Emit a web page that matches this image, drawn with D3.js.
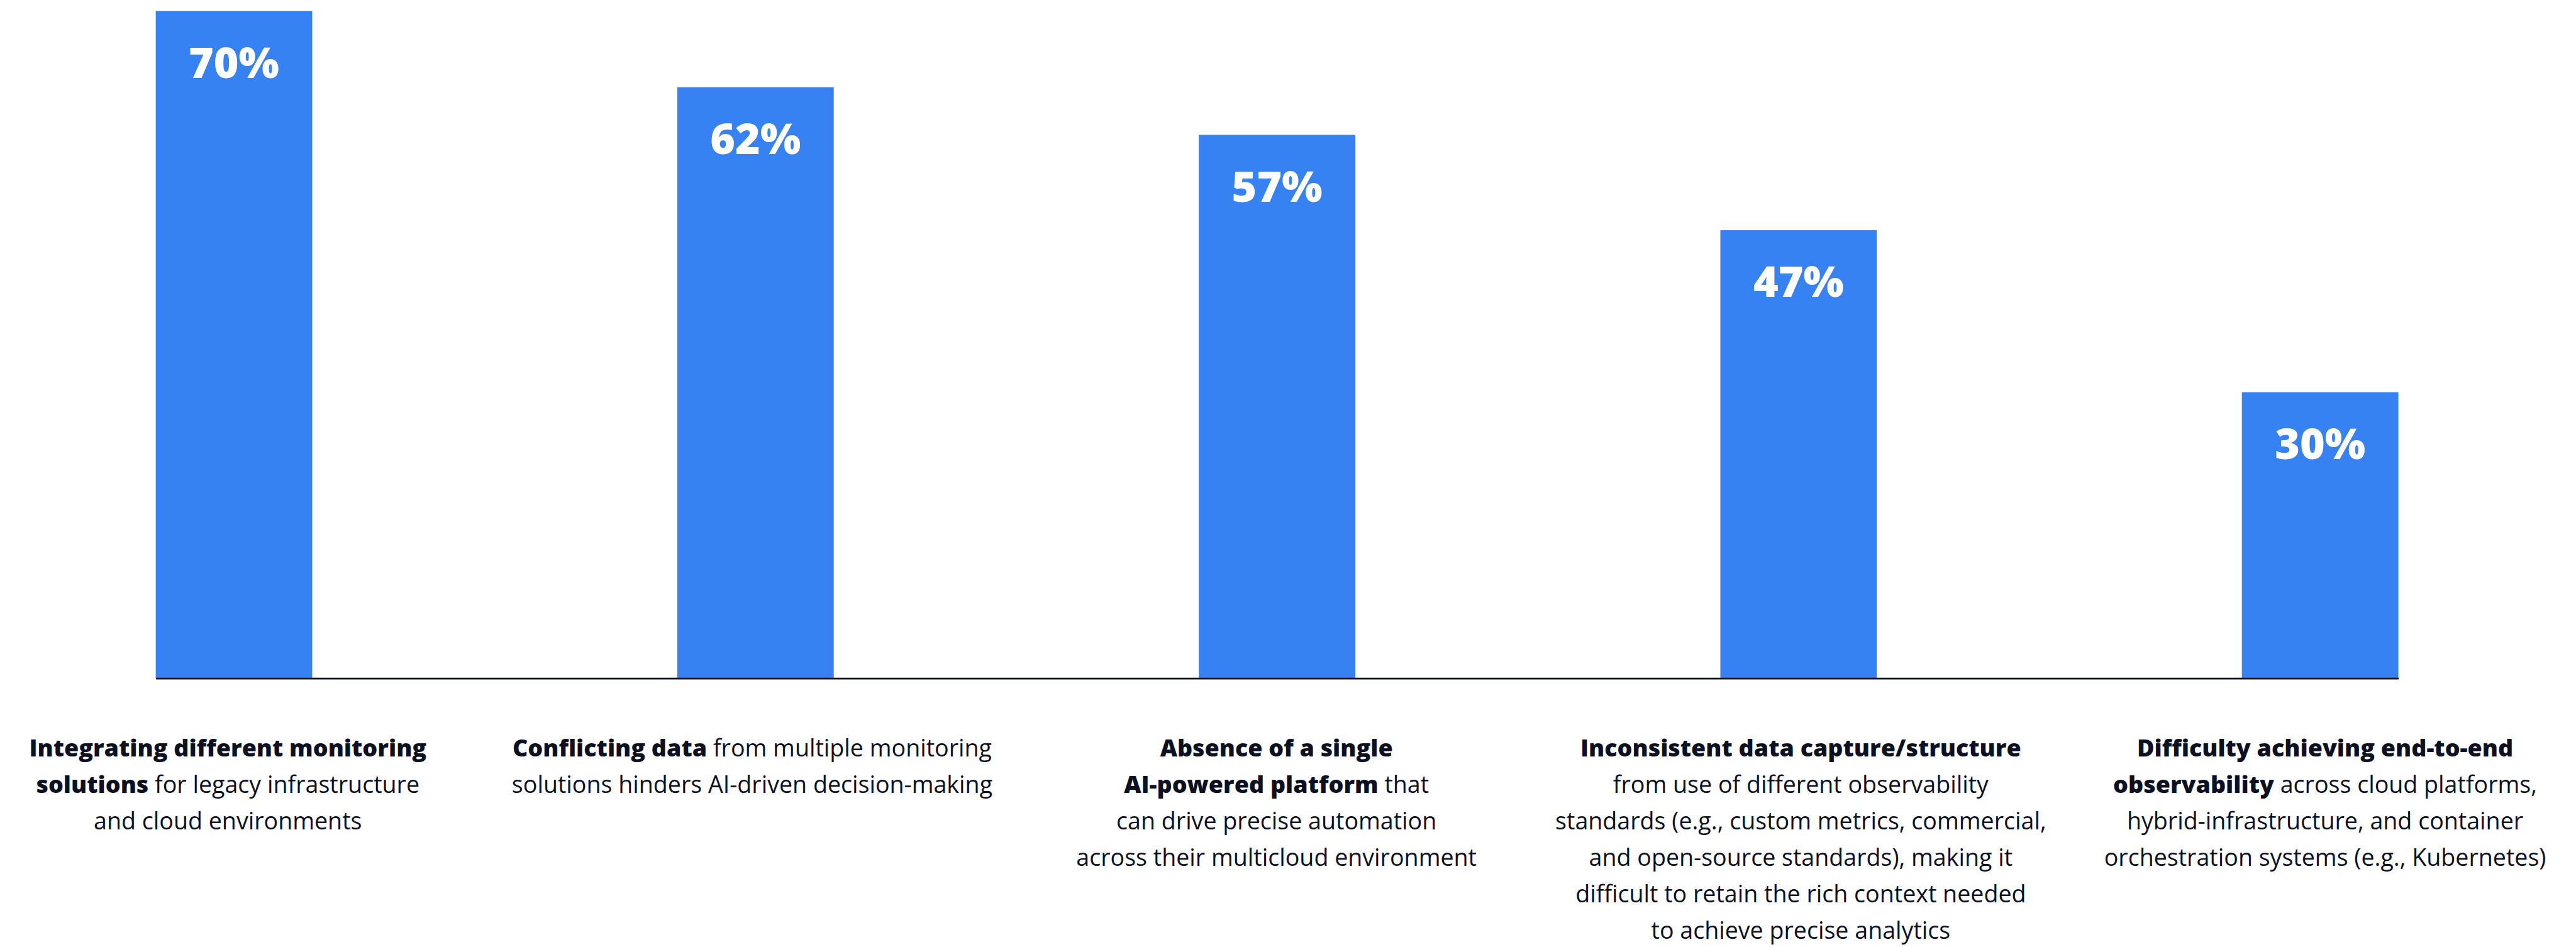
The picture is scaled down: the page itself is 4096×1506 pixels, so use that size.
<!DOCTYPE html>
<html>
<head>
<meta charset="utf-8">
<script src="https://cdn.jsdelivr.net/npm/d3@7/dist/d3.min.js"></script>
<style>
  html, body { margin: 0; padding: 0; background: #ffffff; }
  svg { display: block; }
</style>
</head>
<body>
<svg id="chart"></svg>
<script>
// Share of respondents citing each observability challenge
const categories = [
  "Integrating different monitoring solutions",
  "Conflicting data",
  "Absence of a single AI-powered platform",
  "Inconsistent data capture/structure",
  "Difficulty achieving end-to-end observability"
];
const values = [70, 62, 57, 47, 30];

// Category captions: one array per line, each line a list of [text, isBold] runs
const captionLines = [
  [
    [["Integrating different monitoring", true]],
    [["solutions", true], [" for legacy infrastructure", false]],
    [["and cloud environments", false]]
  ],
  [
    [["Conflicting data", true], [" from multiple monitoring", false]],
    [["solutions hinders AI-driven decision-making", false]]
  ],
  [
    [["Absence of a single", true]],
    [["AI-powered platform", true], [" that", false]],
    [["can drive precise automation", false]],
    [["across their multicloud environment", false]]
  ],
  [
    [["Inconsistent data capture/structure", true]],
    [["from use of different observability", false]],
    [["standards (e.g., custom metrics, commercial,", false]],
    [["and open-source standards), making it", false]],
    [["difficult to retain the rich context needed", false]],
    [["to achieve precise analytics", false]]
  ],
  [
    [["Difficulty achieving end-to-end", true]],
    [["observability", true], [" across cloud platforms,", false]],
    [["hybrid-infrastructure, and container", false]],
    [["orchestration systems (e.g., Kubernetes)", false]]
  ]
];

// Layout is authored on a 4466 x 1642 design grid and scaled to the window
const W = 4096, H = 1506;
const DESIGN_W = 4466;
const k = W / DESIGN_W;

const BAR_COLOR = "#3682f2";
const INK = "#0b1022";
const FONT = "'Open Sans', 'Noto Sans', sans-serif";

const svg = d3.select("#chart").attr("width", W).attr("height", H);
const g = svg.append("g").attr("transform", `scale(${k})`);

const x = d3.scaleBand()
  .domain(categories)
  .range([270, 4158])
  .paddingInner(0.7)
  .paddingOuter(0);

const y = d3.scaleLinear()
  .domain([0, 70])
  .range([1176, 19]);

// Caption centres sit on a slightly wider rhythm than the bars
const xCaption = d3.scalePoint()
  .domain(categories)
  .range([395, 4031]);

// Bars
g.append("g")
  .selectAll("rect")
  .data(categories)
  .join("rect")
  .attr("x", d => x(d))
  .attr("y", (d, i) => y(values[i]))
  .attr("width", x.bandwidth())
  .attr("height", (d, i) => y(0) - y(values[i]))
  .attr("fill", BAR_COLOR);

// Value labels inside the top of each bar
g.append("g")
  .selectAll("text")
  .data(categories)
  .join("text")
  .attr("x", d => x(d) + x.bandwidth() / 2)
  .attr("y", (d, i) => y(values[i]) + 116)
  .attr("text-anchor", "middle")
  .attr("font-family", FONT)
  .attr("font-weight", 800)
  .attr("font-size", 74)
  .attr("fill", "#ffffff")
  .text((d, i) => `${values[i]}%`);

// Baseline axis (no ticks or labels)
const axis = d3.axisBottom(x).tickSize(0).tickFormat("");
const axisG = g.append("g")
  .attr("transform", `translate(0,${y(0)})`)
  .call(axis);
axisG.select(".domain")
  .attr("stroke", INK)
  .attr("stroke-width", 3);

// Multi-line captions under the axis
const LINE_H = 63.2;
const FIRST_BASELINE = 1312;
const captions = g.append("g")
  .attr("font-family", FONT)
  .attr("font-size", 41)
  .attr("fill", INK)
  .selectAll("text")
  .data(categories)
  .join("text")
  .attr("text-anchor", "middle")
  .attr("transform", d => `translate(${xCaption(d)},0)`);

captions.each(function(d, i) {
  const t = d3.select(this);
  captionLines[i].forEach((runs, li) => {
    runs.forEach((run, ri) => {
      const ts = t.append("tspan")
        .attr("font-weight", run[1] ? 800 : 400)
        .text(run[0]);
      if (ri === 0) {
        ts.attr("x", 0).attr("y", FIRST_BASELINE + li * LINE_H);
      }
    });
  });
});
</script>
</body>
</html>
